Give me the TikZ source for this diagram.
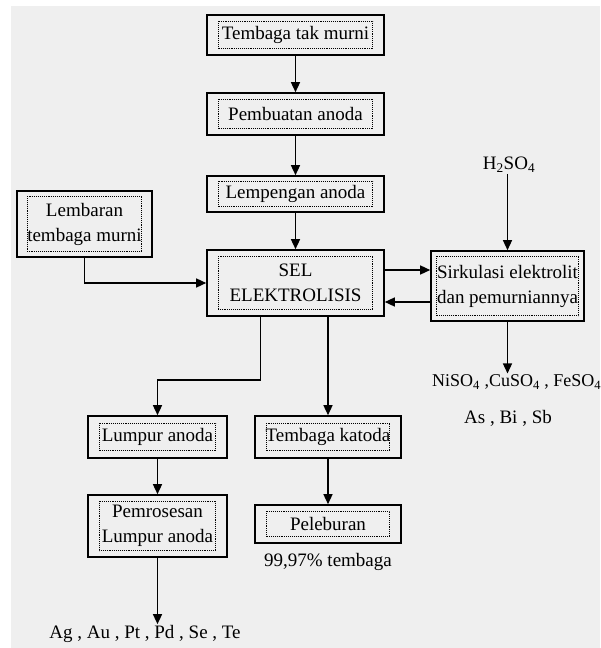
\documentclass[tikz,border=0pt]{standalone}
\usepackage{fontspec}
\setmainfont{Liberation Serif}
\usetikzlibrary{arrows.meta}
\definecolor{bggray}{HTML}{EFEFEF}

\begin{document}
\begin{tikzpicture}[
    x=1pt, y=-1pt,
    font=\fontsize{19}{25}\selectfont,
    >={Triangle[length=10pt,width=9pt]},
    box/.style={draw=black, line width=1.6pt, align=center, inner sep=2pt},
    flow/.style={line width=1.4pt, black},
    inframe/.style={densely dotted, line width=0.9pt, black},
    lbl/.style={align=center, inner sep=1pt},
    ]
    \useasboundingbox (0,0) rectangle (600,648);
    \fill[bggray] (11,6) rectangle (600,648);

    \node[box, minimum width=177pt, minimum height=40pt] (tak) at (295.5,35) {Tembaga tak murni};
    \node[box, minimum width=177pt, minimum height=42pt] (buat) at (295.5,114) {Pembuatan anoda};
    \node[box, minimum width=177pt, minimum height=36pt] (lemp) at (295.5,194) {Lempengan anoda};
    \node[box, minimum width=135pt, minimum height=66pt] (lemb) at (84.5,224) {Lembaran\\tembaga murni};
    \node[box, minimum width=177pt, minimum height=66pt] (sel) at (295.5,283) {SEL\\ELEKTROLISIS};
    \node[box, minimum width=153pt, minimum height=70pt] (sirk) at (507.5,286) {Sirkulasi elektrolit\\dan pemurniannya};
    \node[box, minimum width=139pt, minimum height=42pt] (lumpur) at (157.5,437) {Lumpur anoda};
    \node[box, minimum width=146pt, minimum height=42pt] (katoda) at (328,437) {Tembaga katoda};
    \node[box, minimum width=139pt, minimum height=62pt] (pemros) at (157.5,526) {Pemrosesan\\Lumpur anoda};
    \node[box, minimum width=146pt, minimum height=38pt] (lebur) at (328,524) {Peleburan};

    \node[lbl] (asam) at (509,165) {H\textsubscript{2}SO\textsubscript{4}};
    \node[lbl, anchor=west, font=\fontsize{18}{22}\selectfont] (garam) at (431,382) {NiSO\textsubscript{4} ,CuSO\textsubscript{4} , FeSO\textsubscript{4}};
    \node[lbl] (logam) at (508,418) {As , Bi , Sb};
    \node[lbl] (murni) at (328,562) {99,97\% tembaga};
    \node[lbl] (mulia) at (145,634) {Ag , Au , Pt , Pd , Se , Te};

    \foreach \n/\dx/\dy in {tak/12/7, buat/12/7, lemp/12/6, lemb/11/6, sel/12/7,
        sirk/6/6, lumpur/12/8, katoda/12/8, pemros/12/7, lebur/12/7}
        \draw[inframe] ([shift={(\dx,\dy)}]\n.north west) rectangle ([shift={(-\dx,-\dy)}]\n.south east);

    \draw[flow,->] (tak) -- (buat);
    \draw[flow,->] (buat) -- (lemp);
    \draw[flow,->] (lemp) -- (sel);
    \draw[flow,->] (lemb.south) |- (sel.west);
    \draw[flow,->] (asam.south -| sirk.north) -- (sirk.north);
    \draw[flow,->] ([yshift=13pt]sel.east) -- ([yshift=13pt]sel.east -| sirk.west);
    \draw[flow,->] ([yshift=-19pt]sel.east -| sirk.west) -- ([yshift=-19pt]sel.east);
    \draw[flow,->] (sirk.south) -- (sirk.south |- garam.north);
    \draw[flow,->] ([xshift=-35pt]sel.south) -- ++(0,63) -| (lumpur.north);
    \draw[flow,->] (sel.south -| katoda.north) -- (katoda.north);
    \draw[flow,->] (lumpur) -- (pemros);
    \draw[flow,->] (katoda) -- (lebur);
    \draw[flow,->] (pemros.south) -- (pemros.south |- mulia.north);
\end{tikzpicture}
\end{document}
